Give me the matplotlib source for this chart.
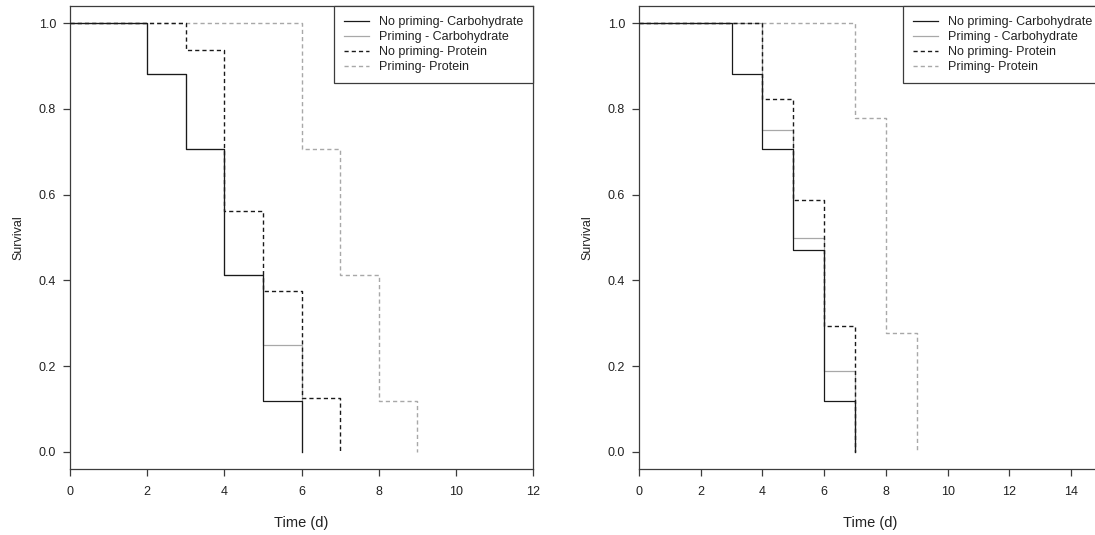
import matplotlib
matplotlib.use('Agg')
import matplotlib.pyplot as plt
from matplotlib.lines import Line2D

plt.rcParams['font.family'] = ['Liberation Sans', 'DejaVu Sans']

# Kaplan-Meier survival steps
# left panel
t_npc_l = [0, 2, 3, 4, 5, 6]
s_npc_l = [1.0, 0.882, 0.706, 0.412, 0.118, 0.0]
t_pc_l = [0, 2, 3, 4, 5, 6]
s_pc_l = [1.0, 0.882, 0.706, 0.412, 0.25, 0.0]
t_npp_l = [0, 3, 4, 5, 6, 7]
s_npp_l = [1.0, 0.9375, 0.5625, 0.375, 0.125, 0.0]
t_pp_l = [0, 6, 7, 8, 9]
s_pp_l = [1.0, 0.706, 0.412, 0.118, 0.0]

# right panel
t_npc_r = [0, 3, 4, 5, 6, 7]
s_npc_r = [1.0, 0.882, 0.706, 0.471, 0.118, 0.0]
t_pc_r = [0, 4, 5, 6, 7]
s_pc_r = [1.0, 0.75, 0.5, 0.1875, 0.0]
t_npp_r = [0, 4, 5, 6, 7]
s_npp_r = [1.0, 0.824, 0.588, 0.294, 0.0]
t_pp_r = [0, 7, 8, 9]
s_pp_r = [1.0, 0.778, 0.278, 0.0]

labels = ['No priming- Carbohydrate', 'Priming - Carbohydrate',
          'No priming- Protein', 'Priming- Protein']
xticks_l = [0, 2, 4, 6, 8, 10, 12]
xticks_r = [0, 2, 4, 6, 8, 10, 12, 14]
yticks = [0.0, 0.2, 0.4, 0.6, 0.8, 1.0]

BLACK = '#1a1a1a'
GREY = '#a8a8a8'
AXC = '#3c3c3c'
styles = [
    dict(color=BLACK, linestyle='-', lw=0.9),
    dict(color=GREY, linestyle='-', lw=0.9),
    dict(color=BLACK, linestyle=(0, (3, 2.2)), lw=1.0),
    dict(color=GREY, linestyle=(0, (3, 2.2)), lw=1.0),
]
zorders = [4, 3, 5, 2]

fig = plt.figure(figsize=(10.95, 5.35), dpi=100)
W, H = 1095, 535
ax1 = fig.add_axes([70 / W, 66 / H, 463 / W, 463 / H])
ax2 = fig.add_axes([639 / W, 66 / H, 463 / W, 463 / H])


def draw(ax, curves, xmax, xticks):
    for (t, s), st, z in zip(curves, styles, zorders):
        ax.step(t, s, where='post', zorder=z, **st)
    ax.set_xlim(0, xmax)
    ax.set_ylim(-0.04, 1.04)
    ax.set_xticks(xticks)
    ax.set_yticks(yticks)
    ax.set_yticklabels([f'{v:.1f}' for v in yticks])
    ax.tick_params(direction='out', length=5, width=0.9, color=AXC,
                   labelsize=9, labelcolor='#222222')
    ax.tick_params(axis='x', pad=7)
    ax.tick_params(axis='y', pad=5)
    for sp in ax.spines.values():
        sp.set_color(AXC)
        sp.set_linewidth(0.9)
    ax.set_xlabel('Time (d)', fontsize=10.5, color='#222222', labelpad=13)
    ax.set_ylabel('Survival', fontsize=9, color='#222222', labelpad=10)
    handles = [Line2D([], [], **st) for st in styles]
    leg = ax.legend(handles, labels, loc='upper right', borderaxespad=0,
                    fontsize=9, frameon=True, fancybox=False,
                    edgecolor=AXC, framealpha=1, borderpad=0.8,
                    handlelength=2.0, handletextpad=0.8, labelspacing=0.25)
    leg.set_zorder(10)
    leg.get_frame().set_linewidth(0.9)
    for txt in leg.get_texts():
        txt.set_color('#222222')


draw(ax1, [(t_npc_l, s_npc_l), (t_pc_l, s_pc_l), (t_npp_l, s_npp_l), (t_pp_l, s_pp_l)],
     12, xticks_l)
draw(ax2, [(t_npc_r, s_npc_r), (t_pc_r, s_pc_r), (t_npp_r, s_npp_r), (t_pp_r, s_pp_r)],
     15, xticks_r)

fig.savefig('out.png', dpi=100)
